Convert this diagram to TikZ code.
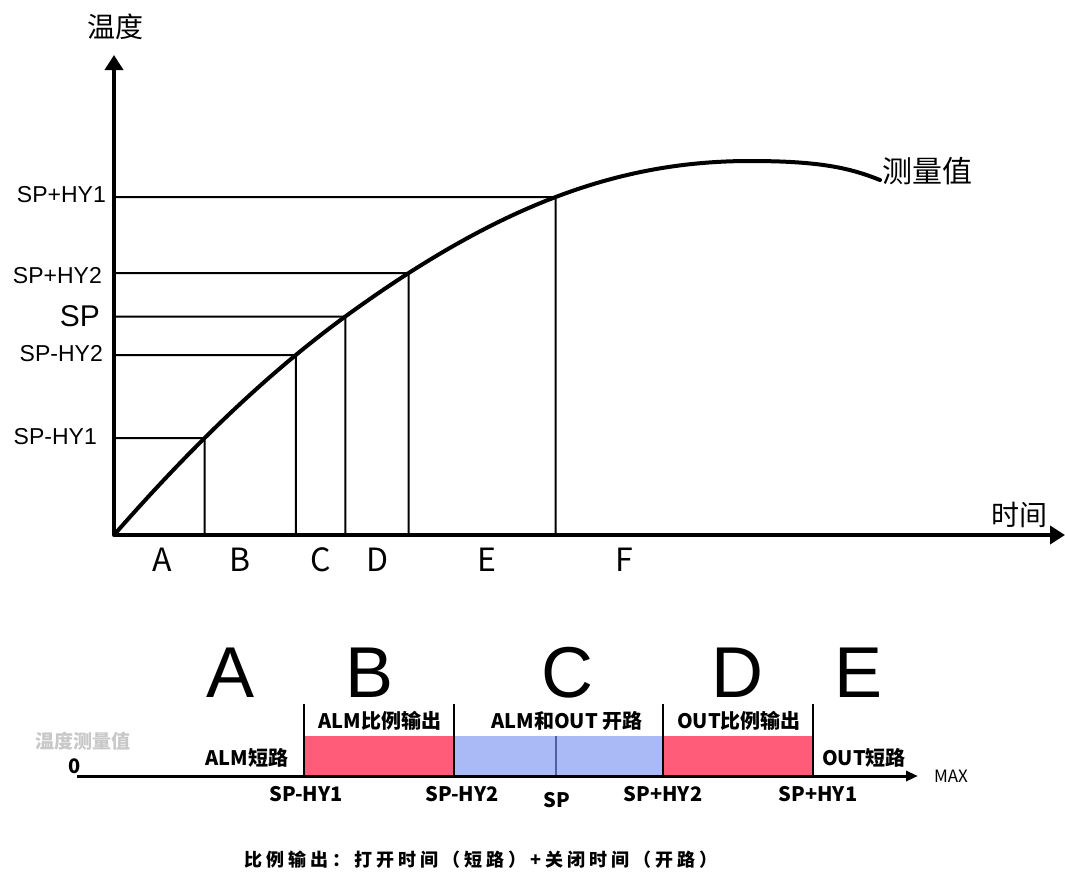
\documentclass[tikz,border=0pt]{standalone}
\usepackage{fontspec}
\setmainfont{Liberation Sans}
\newfontfamily\cjk{Noto Sans CJK SC}
\newfontfamily\cjkls{Noto Sans CJK SC}[LetterSpace=22]
\usetikzlibrary{arrows.meta,intersections}
\definecolor{barred}{RGB}{255,92,122}
\definecolor{barblue}{RGB}{170,186,246}
\definecolor{spblue}{RGB}{80,96,160}
\definecolor{lightgray}{RGB}{200,200,200}
\begin{document}
\begin{tikzpicture}[x=1pt,y=-1pt,
  axis/.style={line width=4pt,-{Triangle[width=18pt,length=15pt]}},
  thin/.style={line width=2pt},
  curve/.style={line width=4pt,line cap=round},
  cjklab/.style={font=\cjk\fontsize{28}{30}\selectfont,inner sep=0pt},
  ylab/.style={font=\fontsize{23}{25}\selectfont,anchor=east,inner sep=0pt},
  xlab/.style={font=\cjk\fontsize{32}{34}\selectfont,inner sep=0pt},
  biglab/.style={font=\fontsize{72}{74}\selectfont,anchor=base,inner sep=0pt},
  blab/.style={font=\cjk\bfseries\fontsize{20}{22}\selectfont,inner sep=0pt},
  tick/.style={line width=2pt}]
\useasboundingbox (0,0) rectangle (1065,871);

% ---------- top chart ----------
\coordinate (O) at (114,535);
\coordinate (ytop) at (114,55);
\coordinate (xend) at (1065,535);

\def\curvepath{(114,535) .. controls (184,455) and (261,378) .. (346,316)
   .. controls (500,204) and (620,161) .. (750,161)
   .. controls (820,161) and (850,168) .. (880,180)}

\path[name path=crv] \curvepath;

\foreach \i/\yy in {1/438,2/355,3/316.5,4/273,5/197}{
  \coordinate (a\i) at (114,\yy);
  \path[name path=h\i] (114,\yy) -- (1000,\yy);
  \path[name intersections={of=crv and h\i, by={p\i}}];
  \coordinate (b\i) at (p\i |- O);
  \draw[thin] (a\i) -- (p\i) -- (b\i);
}

\draw[curve] \curvepath;

\draw[axis] (O) -- (ytop);
\draw[axis] (O) -- (xend);

\node[cjklab] (ttemp) at (115,27) {温度};
\node[cjklab] (ttime) at (1019,515) {时间};
\node[cjklab,font=\cjk\fontsize{30}{32}\selectfont] (tmeas) at (927,171) {测量值};

\node[ylab] (l5) at (106,195) {SP+HY1};
\node[ylab] (l4) at (102,276) {SP+HY2};
\node[ylab,font=\fontsize{30}{32}\selectfont] (l3) at (100,316) {SP};
\node[ylab] (l2) at (103,354) {SP-HY2};
\node[ylab] (l1) at (97,437) {SP-HY1};

\node[xlab] (xA) at (162,560) {A};
\node[xlab] (xB) at (240,560) {B};
\node[xlab] (xC) at (321,560) {C};
\node[xlab] (xD) at (378,560) {D};
\node[xlab] (xE) at (487,560) {E};
\node[xlab] (xF) at (624,560) {F};

% ---------- bottom bar ----------
\node[biglab] (bA) at (231,697) {A};
\node[biglab] (bB) at (370,697) {B};
\node[biglab] (bC) at (567,697) {C};
\node[biglab] (bD) at (737,697) {D};
\node[biglab] (bE) at (859,697) {E};

\fill[barred] (304,736) rectangle (454,776);
\fill[barblue] (454,736) rectangle (663,776);
\fill[barred] (663,736) rectangle (813,776);

\coordinate (t1a) at (304,704); \coordinate (t1b) at (304,776);
\coordinate (t2a) at (454,704); \coordinate (t2b) at (454,776);
\coordinate (t3a) at (663,704); \coordinate (t3b) at (663,776);
\coordinate (t4a) at (813,704); \coordinate (t4b) at (813,776);
\coordinate (spa) at (556,736); \coordinate (spb) at (556,776);
\foreach \i in {1,...,4}{ \draw[tick] (t\i a) -- (t\i b); }
\draw[line width=1.5pt,spblue] (spa) -- (spb);

\coordinate (bl0) at (77,776);
\coordinate (bl1) at (918,776);
\draw[line width=3pt,-{Triangle[width=10pt,length=12pt]}] (bl0) -- (bl1);

\node[font=\cjk\fontsize{17}{19}\selectfont,inner sep=0pt] (max) at (951,776) {MAX};
\node[blab,text=lightgray,font=\cjk\bfseries\fontsize{19}{21}\selectfont] (meas) at (83,741) {温度测量值};
\node[blab] (zero) at (75,766) {0};

\node[blab] (r1) at (380,721) {ALM比例输出};
\node[blab] (r2) at (567,721) {ALM和OUT 开路};
\node[blab] (r3) at (739,721) {OUT比例输出};
\node[blab] (r0) at (247,758) {ALM短路};
\node[blab] (r4) at (864,758) {OUT短路};

\node[blab] (s1) at (306,794) {SP-HY1};
\node[blab] (s2) at (462,794) {SP-HY2};
\node[blab] (s3) at (557,800) {SP};
\node[blab] (s4) at (663,794) {SP+HY2};
\node[blab] (s5) at (818,794) {SP+HY1};

\node[blab,font=\cjkls\bfseries\fontsize{18}{20}\selectfont] (cap) at (481,860) {比例输出：打开时间（短路）+关闭时间（开路）};
\end{tikzpicture}
\end{document}
